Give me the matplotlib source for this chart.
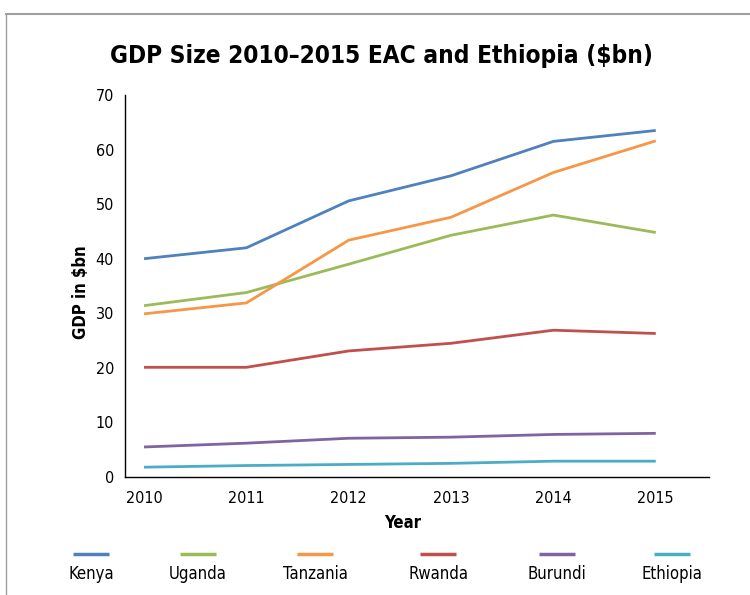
import matplotlib
matplotlib.use("Agg")
import matplotlib.pyplot as plt
from matplotlib.lines import Line2D

plt.rcParams['font.family'] = ['DejaVu Sans']
plt.rcParams['font.stretch'] = 'condensed'

#--DATA--#
years = [2010, 2011, 2012, 2013, 2014, 2015]
kenya = [40.0, 42.0, 50.6, 55.2, 61.5, 63.5]
uganda = [31.4, 33.8, 39.0, 44.3, 48.0, 44.8]
tanzania = [29.9, 31.9, 43.4, 47.6, 55.8, 61.6]
rwanda = [20.1, 20.1, 23.1, 24.5, 26.9, 26.3]
burundi = [5.5, 6.2, 7.1, 7.3, 7.8, 8.0]
ethiopia = [1.8, 2.1, 2.3, 2.5, 2.9, 2.9]
countries = ["Kenya", "Uganda", "Tanzania", "Rwanda", "Burundi", "Ethiopia"]
colors = ["#4F81BD", "#9BBB59", "#F79646", "#C0504D", "#8064A2", "#4BACC6"]
yticks = [0, 10, 20, 30, 40, 50, 60, 70]
#----#

series = [kenya, uganda, tanzania, rwanda, burundi, ethiopia]

fig = plt.figure(figsize=(7.5, 5.95), dpi=100)
ax = fig.add_axes([125/750, 1 - 477/595, (709 - 125)/750, (477 - 95)/595])

x = list(range(len(years)))
for vals, c in zip(series, colors):
    ax.plot(x, vals, color=c, lw=2.0, solid_capstyle='butt')

ax.set_xlim(-0.186, 5.52)
ax.set_ylim(0, 70)
ax.set_yticks(yticks)
ax.set_xticks(x)
ax.set_xticklabels([str(y) for y in years])
ax.tick_params(length=0, labelsize=11.5)
ax.tick_params(axis='x', pad=10)
ax.tick_params(axis='y', pad=8)
for s in ["top", "right"]:
    ax.spines[s].set_visible(False)
for s in ["left", "bottom"]:
    ax.spines[s].set_linewidth(1.0)

fig.text(81/750, 1 - 292/595, "GDP in $bn", rotation=90, ha='center', va='center',
         fontsize=12, fontweight='bold')
fig.text(403/750, 1 - 523/595, "Year", ha='center', va='center',
         fontsize=12, fontweight='bold')
fig.text(381/750, 1 - 56/595, "GDP Size 2010\u20132015 EAC and Ethiopia ($bn)",
         ha='center', va='center', fontsize=17.5, fontweight='bold')

# legend: key line above label
leg_x = [91, 198, 315, 438, 557, 672]
for name, c, lx in zip(countries, colors, leg_x):
    fig.add_artist(Line2D([(lx - 18)/750, (lx + 18)/750], [1 - 554/595, 1 - 554/595],
                          color=c, lw=2.5, solid_capstyle='butt'))
    fig.text(lx/750, 1 - 574/595, name, ha='center', va='center', fontsize=12)

# frame lines
fig.add_artist(Line2D([6/750, 1], [1 - 14/595, 1 - 14/595], color='#a0a0a0', lw=1.5))
fig.add_artist(Line2D([6/750, 6/750], [0, 1 - 14/595], color='#a0a0a0', lw=1.0))

fig.savefig("out.png", dpi=100)
